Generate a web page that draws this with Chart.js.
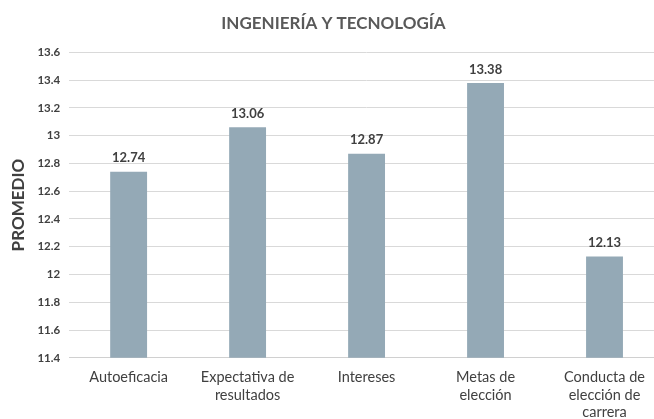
<!DOCTYPE html>
<html>
<head>
<meta charset="utf-8">
<script src="https://cdn.jsdelivr.net/npm/chart.js@4"></script>
<style>
html,body{margin:0;padding:0;background:#fff;overflow:hidden;}
/* el área del gráfico sigue un poco más allá del borde derecho, como en el original */
#wrap{width:664px;height:419px;}
</style>
</head>
<body>
<div id="wrap"><canvas id="chart"></canvas></div>
<script>
// categorías y promedios
const categories = [
  ["Autoeficacia"],
  ["Expectativa de", "resultados"],
  ["Intereses"],
  ["Metas de", "elección"],
  ["Conducta de", "elección de", "carrera"]
];
const promedios = [12.74, 13.06, 12.87, 13.38, 12.13];
const yMin = 11.4, yMax = 13.6, yStep = 0.2;

const FONT = "Lato, 'Open Sans', sans-serif";

// etiquetas encima de las barras
const valueLabels = {
  id: "valueLabels",
  afterDatasetsDraw(chart){
    const ctx = chart.ctx;
    const meta = chart.getDatasetMeta(0);
    ctx.save();
    ctx.font = "bold 13px " + FONT;
    ctx.fillStyle = "#404040";
    ctx.textAlign = "center";
    ctx.textBaseline = "bottom";
    meta.data.forEach((bar, i) => {
      ctx.fillText(promedios[i].toFixed(2), bar.x, bar.y - 7);
    });
    ctx.restore();
  }
};

new Chart(document.getElementById("chart"), {
  type: "bar",
  data: {
    labels: categories,
    datasets: [{
      data: promedios,
      backgroundColor: "#94A9B6",
      categoryPercentage: 1,
      barPercentage: 0.31
    }]
  },
  options: {
    responsive: true,
    maintainAspectRatio: false,
    animation: false,
    layout: {padding: {left: 3, right: 0, top: 4, bottom: -5}},
    plugins: {
      legend: {display: false},
      tooltip: {enabled: false},
      title: {
        display: true,
        text: "INGENIERÍA Y TECNOLOGÍA",
        color: "#595959",
        font: {family: FONT, size: 17, weight: "bold"},
        padding: {top: 9, bottom: 19}
      }
    },
    scales: {
      x: {
        grid: {display: false},
        border: {color: "#d0d0d0"},
        ticks: {
          color: "#404040",
          font: {family: FONT, size: 14.5, lineHeight: 1.2},
          padding: 3,
          maxRotation: 0
        }
      },
      y: {
        min: yMin,
        max: yMax,
        grid: {color: "#d9d9d9", drawTicks: false},
        border: {display: false},
        ticks: {
          stepSize: yStep,
          color: "#404040",
          font: {family: FONT, size: 11.5, weight: "bold"},
          padding: 9,
          callback: v => String(Math.round(v * 10) / 10)
        },
        title: {
          display: true,
          text: "PROMEDIO",
          color: "#404040",
          font: {family: FONT, size: 17, weight: "bold"},
          padding: {top: 5, bottom: 0}
        }
      }
    }
  },
  plugins: [valueLabels]
});
</script>
</body>
</html>
